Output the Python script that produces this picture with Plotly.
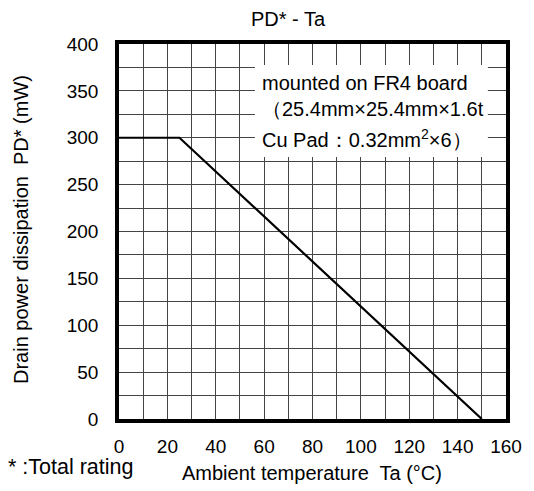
import plotly.graph_objects as go

ta = [0, 25, 150]
pd_mw = [300, 300, 0]
x_ticks = [0, 20, 40, 60, 80, 100, 120, 140, 160]
y_ticks = [0, 50, 100, 150, 200, 250, 300, 350, 400]

W, H = 534, 491
L, R, T, B = 119, 28, 44, 72
PW, PH = W - L - R, H - T - B
FONT = "Liberation Sans, Arial, sans-serif"


def px_x(p):
    return (p - L) / PW


def px_y(p):
    return (H - B - p) / PH


fig = go.Figure()
fig.add_trace(go.Scatter(x=ta, y=pd_mw, mode="lines",
                         line=dict(color="black", width=2.2), showlegend=False))

fig.update_layout(
    width=W, height=H,
    margin=dict(l=L, r=R, t=T, b=B),
    paper_bgcolor="white", plot_bgcolor="white",
    font=dict(family=FONT, size=19, color="black"),
    xaxis=dict(range=[0, 160], tickvals=x_ticks, ticktext=[str(v) for v in x_ticks],
               showgrid=True, gridcolor="#444", gridwidth=1,
               minor=dict(dtick=10, showgrid=True, gridcolor="#444", gridwidth=1),
               showline=True, linecolor="black", linewidth=3.5, mirror=True,
               zeroline=False, ticks="", ticklabelstandoff=7,
               tickfont=dict(size=19)),
    yaxis=dict(range=[0, 400], tickvals=y_ticks, ticktext=[str(v) for v in y_ticks],
               showgrid=True, gridcolor="#444", gridwidth=1,
               minor=dict(dtick=25, showgrid=True, gridcolor="#444", gridwidth=1),
               showline=True, linecolor="black", linewidth=3.5, mirror=True,
               zeroline=False, ticks="", ticklabelstandoff=13,
               tickfont=dict(size=19)),
)

# white box behind the note text (covers grid)
fig.add_shape(type="rect", xref="x", yref="y", x0=56.2, x1=152.5, y0=279.5, y1=377.6,
              fillcolor="white", line=dict(width=0), layer="between")

# title
fig.add_annotation(text="PD* - Ta", xref="paper", yref="paper",
                   x=px_x(288), y=px_y(19), xanchor="center", yanchor="middle",
                   showarrow=False, font=dict(size=20, family=FONT, color="black"))

# axis titles
fig.add_annotation(text="Ambient temperature  Ta (°C)", xref="paper", yref="paper",
                   x=px_x(312), y=px_y(473), xanchor="center", yanchor="middle",
                   showarrow=False, font=dict(size=20, family=FONT, color="black"))
fig.add_annotation(text="Drain power dissipation  PD* (mW)", xref="paper", yref="paper",
                   x=px_x(21), y=px_y(230), xanchor="center", yanchor="middle",
                   textangle=-90, showarrow=False,
                   font=dict(size=20, family=FONT, color="black"))

note_lines = ["mounted on FR4 board",
              "（25.4mm×25.4mm×1.6t",
              "Cu Pad：0.32mm<sup>2</sup>×6）"]
note_y = [83, 109, 138]
for txt, yp in zip(note_lines, note_y):
    fig.add_annotation(text=txt, xref="paper", yref="paper",
                       x=px_x(260), y=px_y(yp),
                       xanchor="left", yanchor="middle", showarrow=False,
                       font=dict(size=20, family=FONT, color="black"))

fig.add_annotation(text="* :Total rating", xref="paper", yref="paper",
                   x=px_x(6), y=px_y(467),
                   xanchor="left", yanchor="middle", showarrow=False,
                   font=dict(size=21.5, family=FONT, color="black"))

fig.write_html("out.html")
